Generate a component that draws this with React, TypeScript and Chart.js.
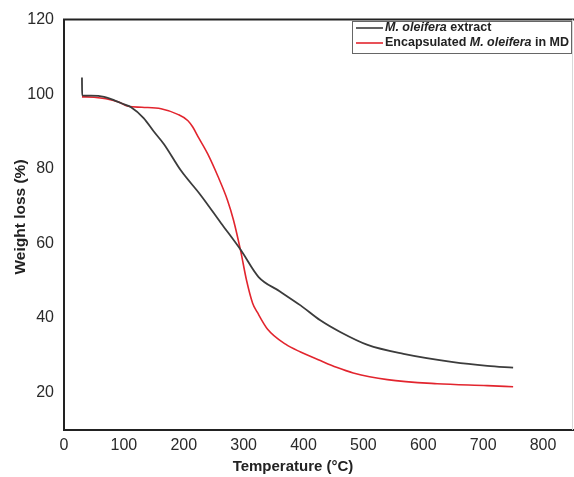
import React, { useEffect, useRef } from "react";
import { Chart, registerables } from "chart.js";

Chart.register(...registerables);

const EXTRACT_T = [30, 30.3, 45, 67, 85, 100, 112, 133, 150, 167, 195, 228, 262, 295, 325, 360, 395, 428, 462, 507, 567, 650, 707, 750];
const EXTRACT_W = [104.5, 99.7, 99.6, 99.3, 98.3, 97.3, 96.5, 93.6, 90.0, 86.6, 79.6, 73.0, 65.5, 58.3, 51.0, 47.2, 43.4, 39.4, 36.2, 32.8, 30.4, 28.2, 27.2, 26.7];

const ENCAP_T = [30, 50, 70, 90, 107, 130, 162, 190, 207, 215, 225, 240, 257, 273, 283, 295, 305, 315, 323, 340, 370, 395, 428, 455, 483, 540, 623, 707, 750];
const ENCAP_W = [99.3, 99.2, 98.8, 98.0, 96.8, 96.5, 96.1, 94.6, 92.9, 91.2, 88.3, 84.0, 78.0, 71.6, 66.3, 58.0, 50.0, 44.0, 41.5, 37.0, 33.0, 30.9, 28.6, 26.8, 25.3, 23.5, 22.4, 21.9, 21.6];

const X_TICKS = [0, 100, 200, 300, 400, 500, 600, 700, 800];
const Y_TICKS = [20, 40, 60, 80, 100, 120];

const X_TITLE = "Temperature (°C)";
const Y_TITLE = "Weight loss (%)";

const LEGEND_1 = [
  { text: "M. oleifera", italic: true },
  { text: " extract", italic: false },
];
const LEGEND_2 = [
  { text: "Encapsulated ", italic: false },
  { text: "M. oleifera", italic: true },
  { text: " in MD", italic: false },
];

const BLACK = "#3c3c3c";
const RED = "#e2252e";
const FONT = "'Liberation Sans', Arial, sans-serif";

const decorPlugin = {
  id: "decor",
  afterDraw(chart: any) {
    const ctx = chart.ctx as CanvasRenderingContext2D;
    const a = chart.chartArea;
    ctx.save();
    // top border
    ctx.strokeStyle = "#222";
    ctx.lineWidth = 2;
    ctx.beginPath();
    ctx.moveTo(a.left - 1, a.top);
    ctx.lineTo(chart.width, a.top);
    ctx.stroke();
    // right border (light)
    ctx.strokeStyle = "#d8d8d8";
    ctx.lineWidth = 1;
    ctx.beginPath();
    ctx.moveTo(a.right - 0.5, a.top);
    ctx.lineTo(a.right - 0.5, a.bottom);
    ctx.stroke();

    // axis titles
    ctx.fillStyle = "#222";
    ctx.textAlign = "center";
    ctx.textBaseline = "middle";
    ctx.font = `bold 15px ${FONT}`;
    ctx.fillText(X_TITLE, 293, 467);
    ctx.save();
    ctx.translate(21, 217);
    ctx.rotate(-Math.PI / 2);
    ctx.font = `bold 15.5px ${FONT}`;
    ctx.fillText(Y_TITLE, 0, 0);
    ctx.restore();

    // legend
    const bx = 352, by = 21, bw = 219, bh = 32;
    ctx.fillStyle = "#fff";
    ctx.fillRect(bx, by, bw, bh);
    ctx.strokeStyle = "#666";
    ctx.lineWidth = 1;
    ctx.strokeRect(bx + 0.5, by + 0.5, bw, bh);
    const rows = [
      { segs: LEGEND_1, color: BLACK, y: 28 },
      { segs: LEGEND_2, color: RED, y: 43 },
    ];
    rows.forEach((r) => {
      ctx.strokeStyle = r.color;
      ctx.lineWidth = 1.6;
      ctx.beginPath();
      ctx.moveTo(356, r.y);
      ctx.lineTo(383, r.y);
      ctx.stroke();
      let x = 385;
      ctx.textAlign = "left";
      ctx.textBaseline = "middle";
      ctx.fillStyle = "#222";
      r.segs.forEach((s) => {
        ctx.font = `${s.italic ? "italic " : ""}bold 12.5px ${FONT}`;
        ctx.fillText(s.text, x, r.y);
        x += ctx.measureText(s.text).width;
      });
    });
    ctx.restore();
  },
};

export default function App() {
  const ref = useRef<HTMLCanvasElement | null>(null);
  useEffect(() => {
    if (!ref.current) return;
    const chart = new Chart(ref.current, {
      type: "line",
      data: {
        datasets: [
          {
            label: "M. oleifera extract",
            data: EXTRACT_T.map((t, i) => ({ x: t, y: EXTRACT_W[i] })),
            borderColor: BLACK,
            borderWidth: 1.8,
            pointRadius: 0,
            cubicInterpolationMode: "monotone",
            fill: false,
          },
          {
            label: "Encapsulated M. oleifera in MD",
            data: ENCAP_T.map((t, i) => ({ x: t, y: ENCAP_W[i] })),
            borderColor: RED,
            borderWidth: 1.6,
            pointRadius: 0,
            cubicInterpolationMode: "monotone",
            fill: false,
          },
        ],
      },
      options: {
        animation: false,
        responsive: true,
        maintainAspectRatio: false,
        layout: { padding: { top: 15, right: 1, left: 0, bottom: 0 } },
        plugins: { legend: { display: false }, tooltip: { enabled: false } },
        scales: {
          x: {
            type: "linear",
            min: 0,
            max: 850,
            grid: { display: false, drawTicks: false },
            border: { display: true, color: "#222", width: 2 },
            afterBuildTicks: (s: any) => {
              s.ticks = X_TICKS.map((v) => ({ value: v }));
            },
            afterFit: (s: any) => {
              s.height = 47;
            },
            ticks: {
              padding: 6,
              color: "#2a2a2a",
              font: { family: FONT, size: 16 },
              maxRotation: 0,
            },
          },
          y: {
            type: "linear",
            min: 10,
            max: 120,
            grid: { display: false, drawTicks: false },
            border: { display: true, color: "#222", width: 2 },
            afterBuildTicks: (s: any) => {
              s.ticks = Y_TICKS.map((v) => ({ value: v }));
            },
            afterFit: (s: any) => {
              s.width = 64;
            },
            ticks: {
              padding: 10,
              color: "#2a2a2a",
              font: { family: FONT, size: 16 },
            },
          },
        },
      },
      plugins: [decorPlugin],
    });
    return () => chart.destroy();
  }, []);
  return (
    <div style={{ position: "fixed", left: 0, top: 0, width: 574, height: 477, background: "#fff" }}>
      <canvas ref={ref} />
    </div>
  );
}
